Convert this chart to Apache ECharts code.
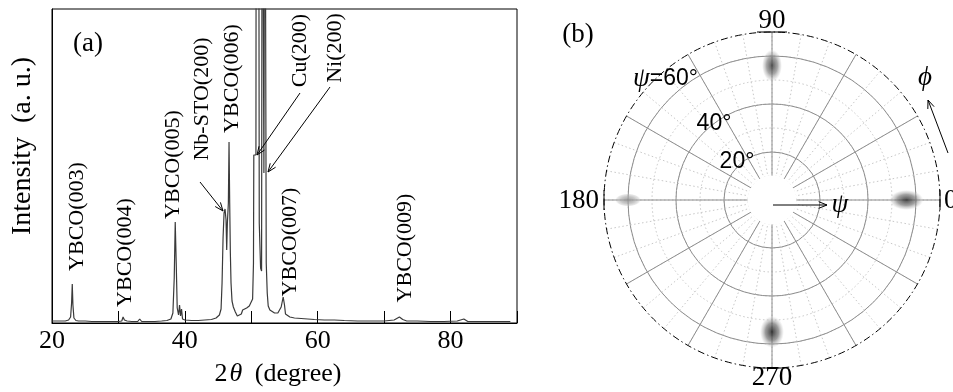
<!DOCTYPE html>
<html><head><meta charset="utf-8">
<script src="https://cdn.jsdelivr.net/npm/echarts@6/dist/echarts.min.js"></script>
<style>html,body{margin:0;padding:0;background:#fff}#c{width:953px;height:392px}</style>
</head><body><div id="c"></div>
<script>
// ---------------- DATA ----------------
// (a) XRD 2theta scan (intensity in arbitrary units)
const twoTheta = [20.0,20.5,21.0,21.5,22.0,22.5,22.8,22.95,23.05,23.15,23.3,23.6,24.0,25.0,26.0,27.0,28.0,29.0,30.0,30.5,30.7,30.9,31.3,32.0,32.9,33.2,33.5,34.5,35.5,36.5,37.3,37.9,38.2,38.4,38.55,38.7,38.85,39.05,39.2,39.35,39.5,39.65,40.0,41.0,42.0,43.0,44.0,44.7,45.2,45.45,45.6,45.75,45.9,46.05,46.2,46.3,46.4,46.55,46.65,46.75,46.85,46.95,47.1,47.3,47.6,47.9,48.2,48.5,48.7,49.0,49.3,49.7,50.0,50.2,50.33,50.38,50.7,50.75,51.1,51.2,51.4,51.55,51.65,51.9,52.05,52.25,52.4,52.55,52.8,53.1,53.5,54.0,54.5,54.8,55.0,55.15,55.4,55.8,56.5,57.5,58.5,59.5,61.0,62.5,64.0,66.0,68.0,70.0,71.5,72.3,72.6,72.8,73.0,73.4,75.0,77.0,79.0,81.0,82.0,82.3,82.6,83.0,85.0,87.0,89.0,90.0];
const intensity = [2,2,2,2,2,3,6,20,39,18,5,2.5,2,2,1.5,1.5,1.5,1.5,1.5,2,6,3,2,1.5,1.5,4,1.5,1.5,1.5,2,2.5,4,10,45,101,60,15,8,18,7,14,4,3,2.5,2.5,3,3.5,5,8,14,40,85,110,114,103,73,100,120,181,120,70,40,22,16,11,7,6,9,13,13,15,17,19,24,60,168,168,600,600,100,55,52,600,150,600,60,30,17,13,11,10,10,16,26,18,9,7,6,5,4.5,4,3.5,3,3,2.5,2,2,2,3,6,7,3.5,2,2,2,1.5,1.5,2,4,3,1.5,1.5,1.5,1.5,1.5];
const xTickLabels = [20, 40, 60, 80];
const peakNames = ['YBCO(003)','YBCO(004)','YBCO(005)','Nb-STO(200)','YBCO(006)','Cu(200)','Ni(200)','YBCO(007)','YBCO(009)'];

// (b) pole figure spots: phi (deg), psi (deg), relative intensity
const spotPhi = [0, 90, 180, 270];
const spotPsi = [56, 56, 60, 55];
const spotLevel = [0.9, 0.8, 0.25, 1.0];
const psiRingLabels = ['20°', '40°', '60°'];
const phiLabels = ['0', '90', '180', '270'];

// ---------------- STYLE / LAYOUT ----------------
const SERIF = '"Liberation Serif","Times New Roman",serif';
const SANS = '"Liberation Sans",Arial,sans-serif';
const spotShape = [[34,20],[32,20],[26,13],[32,24]]; // radial, tangential px
const PC = [772, 200], PR = 168;

function arrow(x1, y1, x2, y2, head) {
  head = head || 9;
  const a = Math.atan2(y2 - y1, x2 - x1), s = 0.38;
  const p1 = [x2 - head * Math.cos(a - s), y2 - head * Math.sin(a - s)];
  const p2 = [x2 - head * Math.cos(a + s), y2 - head * Math.sin(a + s)];
  return [
    {type:'line', shape:{x1, y1, x2, y2}, style:{stroke:'#000', lineWidth:1}, z:20},
    {type:'polyline', shape:{points:[p1,[x2,y2],p2]}, style:{stroke:'#000', fill:null, lineWidth:1}, z:20}
  ];
}
function text(x, y, str, font, rot, extra) {
  const st = Object.assign({text:str, font:font, fill:'#000', align:'center', verticalAlign:'middle', textAlign:'center', textVerticalAlign:'middle'}, extra || {});
  return {type:'text', x:x, y:y, rotation:rot || 0, style:st, z:20};
}
function seg(x1, y1, x2, y2) {
  return {type:'line', shape:{x1, y1, x2, y2}, style:{stroke:'#000', lineWidth:1}, z:20};
}

const peakLabelPos = [[77,216.5],[125,252.5],[173.5,164.5],[202,99],[232,78.5],[300,50.5],[335,48],[290,242],[405,248]];

const graphics = [];
// white disk in the centre of the pole figure (above grid, below spots)
graphics.push({type:'circle', shape:{cx:PC[0], cy:PC[1], r:24.5}, style:{fill:'#fff', stroke:null}, z:1});
peakNames.forEach((n, i) => graphics.push(text(peakLabelPos[i][0], peakLabelPos[i][1], n, '22px ' + SERIF, Math.PI / 2)));
graphics.push(...arrow(200, 182, 223, 211));
graphics.push(...arrow(300, 93, 257, 155));
graphics.push(...arrow(330, 87, 268, 172));
graphics.push(text(88, 44, '(a)', '27px ' + SERIF));
graphics.push(text(23, 146, 'Intensity  (a. u.)', '28px ' + SERIF, Math.PI / 2));
graphics.push({type:'text', x:278, y:374, z:20, style:{
  text:'{n|2}{t|θ} (degree)', font:'26px ' + SERIF, fill:'#000',
  align:'center', verticalAlign:'middle', textAlign:'center', textVerticalAlign:'middle',
  rich:{n:{font:'26px ' + SERIF, fill:'#000'}, t:{font:'italic 26px ' + SERIF, fill:'#000', padding:[0,6,0,2]}}
}});
// (b)
graphics.push(text(578, 35, '(b)', '27px ' + SERIF));
graphics.push(text(772, 21, phiLabels[1], '27px ' + SERIF));
graphics.push(text(772, 378, phiLabels[3], '27px ' + SERIF));
graphics.push(text(599, 201, phiLabels[2], '27px ' + SERIF, 0, {align:'right', textAlign:'right'}));
graphics.push(text(944, 201, phiLabels[0], '27px ' + SERIF, 0, {align:'left', textAlign:'left'}));
graphics.push(seg(757, 32, 787, 32), seg(757, 368, 787, 368), seg(604, 190, 604, 210), seg(940, 190, 940, 210));
graphics.push({type:'text', x:633, y:79, z:20, style:{
  text:'{p|ψ}{s|=' + psiRingLabels[2] + '}', fill:'#000', align:'left', verticalAlign:'middle', textAlign:'left', textVerticalAlign:'middle',
  rich:{p:{font:'italic 27px ' + SERIF, fill:'#000'}, s:{font:'23px ' + SANS, fill:'#000'}}
}});
graphics.push(text(714, 124, psiRingLabels[1], '23px ' + SANS));
graphics.push(text(737, 162, psiRingLabels[0], '23px ' + SANS));
graphics.push(...arrow(773, 205, 827, 205));
graphics.push(text(840, 205, 'ψ', 'italic 27px ' + SERIF));
graphics.push(...arrow(948, 153, 928, 100));
graphics.push(text(925, 78, 'ϕ', 'italic 27px ' + SERIF));

const chart = echarts.init(document.getElementById('c'), null, {renderer:'canvas'});
const g = (v, a) => 'rgba(' + v + ',' + v + ',' + v + ',' + a + ')';
const spotData = spotPhi.map((p, i) => [spotPsi[i], p]);
function spotGradient(l) {
  const core = Math.round(180 - 160 * l), mid = Math.round(190 - 90 * l);
  return {type:'radial', x:0.5, y:0.5, r:0.5, colorStops:[
    {offset:0, color:g(core, 1)},
    {offset:0.25, color:g(Math.round((core + mid) / 2), 0.95)},
    {offset:0.55, color:g(mid, 0.8)},
    {offset:0.85, color:g(185, 0.45)},
    {offset:1, color:g(210, 0)}
  ]};
}

chart.setOption({
  animation:false,
  backgroundColor:'#fff',
  grid:{left:52, top:9, width:465, height:314, show:true, borderColor:'#000', borderWidth:1, backgroundColor:'transparent'},
  xAxis:{type:'value', min:20, max:90, interval:10, gridIndex:0,
    axisLine:{show:true, lineStyle:{color:'#000', width:1}},
    axisTick:{show:true, inside:true, length:12, lineStyle:{color:'#000', width:1}},
    axisLabel:{margin:5, fontFamily:SERIF, fontSize:26, color:'#000',
      formatter:(v) => xTickLabels.indexOf(v) >= 0 ? String(v) : ''},
    splitLine:{show:false}},
  yAxis:{type:'value', min:0, max:314, gridIndex:0, axisLine:{show:true, lineStyle:{color:'#000'}}, axisTick:{show:false}, axisLabel:{show:false}, splitLine:{show:false}},
  polar:[{center:PC, radius:PR}, {center:PC, radius:PR}],
  angleAxis:[
    {polarIndex:0, type:'value', min:0, max:360, interval:10, startAngle:0, clockwise:false,
      axisLine:{show:true, lineStyle:{color:'#000', width:1, type:[7,3,1.5,3]}},
      axisTick:{show:false}, axisLabel:{show:false},
      splitLine:{show:true, lineStyle:{color:'#c8c8c8', width:1, type:[1.5,2.5]}}},
    {polarIndex:1, type:'value', min:0, max:360, interval:30, startAngle:0, clockwise:false,
      axisLine:{show:false}, axisTick:{show:false}, axisLabel:{show:false},
      splitLine:{show:true, lineStyle:{color:'#8e8e8e', width:1}}}
  ],
  radiusAxis:[
    {polarIndex:0, type:'value', min:0, max:70, interval:10,
      axisLine:{show:false}, axisTick:{show:false}, axisLabel:{show:false},
      splitLine:{show:true, lineStyle:{color:['#c8c8c8','#c8c8c8','#c8c8c8','#c8c8c8','#c8c8c8','#c8c8c8','#c8c8c8','rgba(0,0,0,0)'], width:1, type:[1.5,2.5]}}},
    {polarIndex:1, type:'value', min:0, max:70, interval:20,
      axisLine:{show:false}, axisTick:{show:false}, axisLabel:{show:false},
      splitLine:{show:true, lineStyle:{color:['#8e8e8e','#8e8e8e','#8e8e8e','#8e8e8e','rgba(0,0,0,0)'], width:1}}}
  ],
  series:[
    {type:'line', xAxisIndex:0, yAxisIndex:0, data:twoTheta.map((t, i) => [t, intensity[i]]),
      symbol:'none', clip:true, lineStyle:{color:'#3a3a3a', width:1.2}, z:3},
    {type:'scatter', coordinateSystem:'polar', polarIndex:0, silent:true, z:5, symbol:'circle',
      symbolSize:(v, p) => spotShape[p.dataIndex],
      symbolRotate:(v, p) => spotPhi[p.dataIndex],
      data:spotData.map((d, i) => ({value:d, itemStyle:{color:spotGradient(spotLevel[i])}}))}
  ],
  graphic:{elements:graphics}
});
</script></body></html>
